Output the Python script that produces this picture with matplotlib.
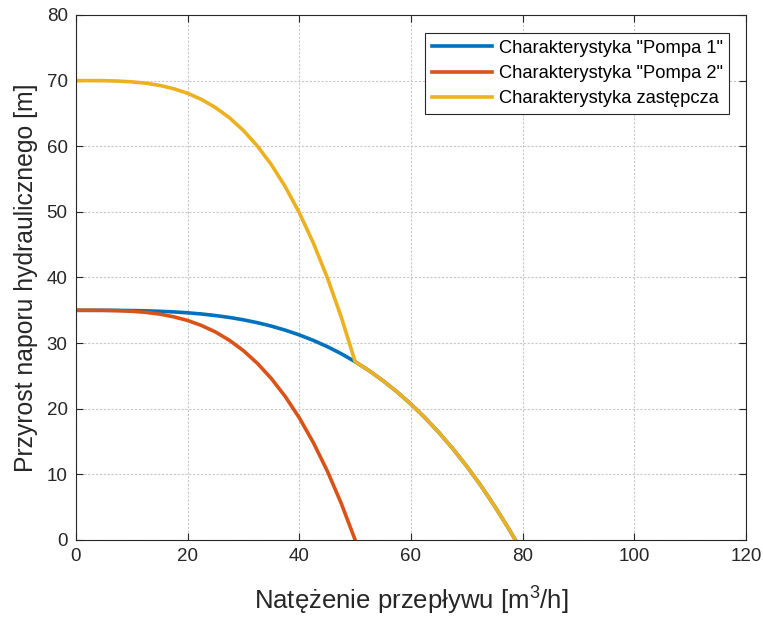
import numpy as np
import matplotlib
matplotlib.use('Agg')
import matplotlib.pyplot as plt

plt.rcParams['font.family'] = ['Liberation Sans', 'DejaVu Sans']
plt.rcParams['mathtext.fontset'] = 'custom'
plt.rcParams['mathtext.rm'] = 'Liberation Sans'
plt.rcParams['mathtext.it'] = 'Liberation Sans'

# flow rate [m3/h]
q1 = [0, 2.5, 5, 7.5, 10, 12.5, 15, 17.5, 20, 22.5, 25, 27.5, 30, 32.5, 35, 37.5,
      40, 42.5, 45, 47.5, 50, 52.5, 55, 57.5, 60, 62.5, 65, 67.5, 70, 72.5, 75, 77.5, 78.7]
# head of pump 1 [m]
h1 = [35.0, 35.0, 35.0, 34.99, 34.96, 34.92, 34.85, 34.76, 34.62, 34.44, 34.20, 33.91,
      33.55, 33.11, 32.59, 31.97, 31.25, 30.42, 29.47, 28.39, 27.17, 25.80, 24.27, 22.57,
      20.70, 18.64, 16.38, 13.91, 11.22, 8.30, 5.14, 1.73, 0.0]
# pump 2 only runs up to 50 m3/h
q2 = q1[:21]
h2 = [35.0, 35.0, 34.99, 34.94, 34.85, 34.69, 34.42, 34.01, 33.45, 32.68, 31.69, 30.42,
      28.84, 26.91, 24.59, 21.84, 18.61, 14.86, 10.54, 5.60, 0.0]

# series connection: heads add up while both pumps work
h_sum = np.concatenate([np.array(h1[:21]) + np.array(h2), h1[21:]])

labels = ['Charakterystyka "Pompa 1"', 'Charakterystyka "Pompa 2"', 'Charakterystyka zastępcza']
colors = ['#0072BD', '#D95319', '#EDB120']

fig = plt.figure(figsize=(7.63, 6.17), dpi=100)
ax = fig.add_axes([0.0996, 0.1248, 0.8781, 0.8509])

ax.plot(q1, h1, color=colors[0], lw=2.6, label=labels[0])
ax.plot(q2, h2, color=colors[1], lw=2.6, label=labels[1])
ax.plot(q1, h_sum, color=colors[2], lw=2.6, label=labels[2])

ax.set_xlim(0, 120)
ax.set_ylim(0, 80)
ax.set_xticks(range(0, 121, 20))
ax.set_yticks(range(0, 81, 10))
ax.grid(True, color='#c8c8c8', linestyle=(0, (2, 1.5)), linewidth=0.8)
ax.set_axisbelow(True)
ax.tick_params(direction='in', top=True, right=True, labelsize=13.5, length=5, width=0.8,
               colors='#262626', pad=6)
for s in ax.spines.values():
    s.set_color('#262626')
    s.set_linewidth(0.8)

ax.set_xlabel('Natężenie przepływu [m$^3$/h]', fontsize=18.5, color='#262626', labelpad=14)
ax.set_ylabel('Przyrost naporu hydraulicznego [m]', fontsize=17.8, color='#262626', labelpad=6)

leg = ax.legend(loc='upper right', fontsize=13.2, fancybox=False, framealpha=1,
                edgecolor='#262626', handlelength=3.3, handletextpad=0.35,
                borderpad=0.35, borderaxespad=0, labelspacing=0.45,
                bbox_to_anchor=(0.975, 0.965))
leg.get_frame().set_linewidth(0.8)

plt.savefig('out.png', dpi=100)
